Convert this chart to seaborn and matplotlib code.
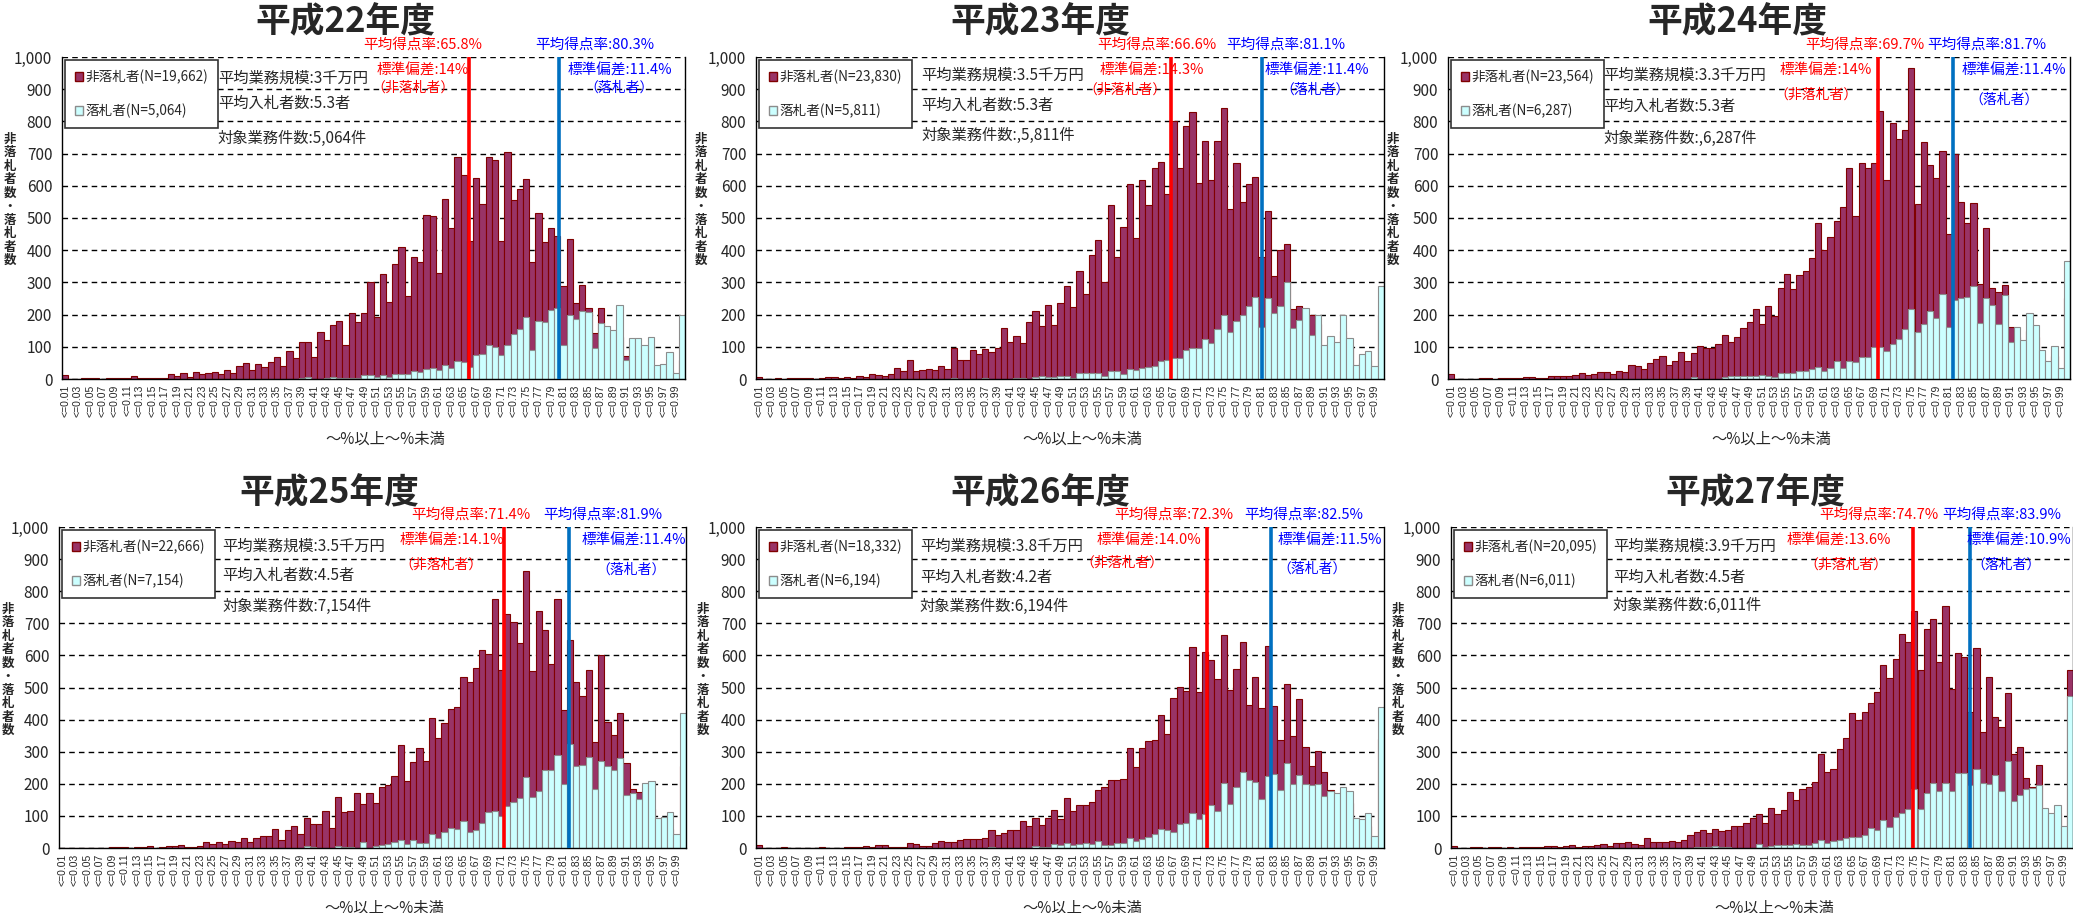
import matplotlib
matplotlib.use("Agg")
import matplotlib.pyplot as plt
from matplotlib.patches import Patch
import seaborn as sns

# --- Data ---
# 100 score-rate bins (0.00-0.01 ... 0.99-1.00); counts
bin_labels = [f"<={(i + 1) / 100:.2f}" for i in range(100)]

years = ["平成22年度", "平成23年度", "平成24年度", "平成25年度", "平成26年度", "平成27年度"]
n_nonwin = ["19,662", "23,830", "23,564", "22,666", "18,332", "20,095"]
n_win = ["5,064", "5,811", "6,287", "7,154", "6,194", "6,011"]
avg_scale = ["3", "3.5", "3.3", "3.5", "3.8", "3.9"]
avg_bidders = ["5.3", "5.3", "5.3", "4.5", "4.2", "4.5"]
job_count = ["5,064", ",5,811", ",6,287", "7,154", "6,194", "6,011"]
mean_nonwin = ["65.8", "66.6", "69.7", "71.4", "72.3", "74.7"]
sd_nonwin = ["14", "14.3", "14", "14.1", "14.0", "13.6"]
mean_win = ["80.3", "81.1", "81.7", "81.9", "82.5", "83.9"]
sd_win = ["11.4", "11.4", "11.4", "11.4", "11.5", "10.9"]

nonwin_h22 = [12, 0, 0, 3, 3, 3, 0, 2, 2, 2,
              3, 8, 3, 3, 3, 3, 3, 15, 8, 18,
              5, 22, 14, 18, 22, 14, 28, 18, 40, 50,
              28, 48, 36, 52, 68, 40, 88, 64, 115, 115,
              68, 147, 122, 168, 180, 105, 205, 178, 205, 302,
              192, 327, 240, 357, 410, 258, 380, 362, 510, 505,
              330, 560, 470, 690, 635, 430, 625, 545, 690, 680,
              430, 705, 557, 590, 622, 362, 515, 425, 470, 445,
              288, 435, 235, 292, 222, 143, 220, 120, 100, 130,
              70, 60, 50, 40, 40, 20, 20, 25, 10, 60]
win_h22 = [0, 0, 0, 0, 0, 0, 0, 0, 0, 0,
           0, 0, 0, 0, 0, 0, 0, 0, 0, 0,
           0, 0, 0, 0, 0, 0, 0, 0, 0, 0,
           0, 0, 0, 0, 0, 0, 0, 0, 2, 5,
           0, 0, 3, 5, 2, 3, 3, 3, 12, 12,
           5, 12, 5, 15, 15, 15, 25, 22, 30, 35,
           28, 42, 33, 55, 53, 38, 75, 77, 107, 100,
           75, 107, 140, 155, 192, 90, 180, 178, 215, 222,
           105, 200, 185, 210, 208, 95, 175, 165, 152, 230,
           60, 128, 127, 105, 130, 45, 48, 85, 20, 200]

nonwin_h23 = [5, 0, 0, 3, 0, 3, 3, 3, 3, 0,
              3, 5, 5, 3, 5, 3, 8, 5, 15, 12,
              10, 15, 33, 25, 58, 25, 28, 30, 28, 40,
              30, 95, 58, 58, 90, 78, 92, 85, 95, 157,
              115, 132, 113, 178, 210, 165, 230, 168, 235, 288,
              225, 335, 265, 385, 432, 300, 540, 380, 472, 605,
              437, 617, 540, 655, 675, 575, 800, 655, 785, 830,
              610, 738, 618, 738, 843, 528, 670, 550, 605, 628,
              380, 522, 320, 400, 420, 218, 226, 190, 200, 170,
              90, 110, 100, 150, 100, 30, 50, 60, 25, 200]
win_h23 = [0, 0, 0, 0, 0, 0, 0, 0, 0, 0,
           0, 0, 0, 0, 0, 0, 0, 0, 0, 0,
           0, 0, 0, 0, 0, 0, 0, 0, 0, 0,
           0, 2, 0, 0, 0, 0, 2, 0, 0, 0,
           0, 3, 3, 0, 5, 8, 5, 6, 8, 8,
           3, 18, 20, 20, 20, 8, 25, 25, 17, 32,
           27, 33, 38, 40, 57, 60, 65, 65, 90, 97,
           95, 123, 112, 155, 200, 145, 180, 198, 228, 255,
           163, 250, 205, 228, 300, 158, 183, 220, 138, 200,
           105, 135, 115, 198, 128, 45, 77, 88, 40, 290]

nonwin_h24 = [15, 0, 0, 0, 0, 2, 2, 0, 2, 2,
              3, 3, 5, 5, 3, 3, 10, 8, 8, 8,
              12, 18, 12, 15, 22, 22, 17, 25, 22, 45,
              40, 30, 50, 62, 70, 45, 55, 83, 55, 80,
              102, 95, 95, 108, 137, 115, 130, 158, 178, 218,
              170, 228, 195, 283, 325, 278, 323, 335, 375, 485,
              402, 440, 490, 535, 655, 505, 672, 655, 672, 832,
              617, 795, 745, 772, 965, 545, 735, 665, 625, 708,
              450, 700, 550, 485, 548, 295, 468, 283, 270, 293,
              160, 130, 100, 150, 130, 60, 40, 70, 25, 250]
win_h24 = [0, 0, 0, 0, 0, 0, 0, 0, 0, 0,
           0, 0, 0, 0, 0, 0, 0, 0, 0, 0,
           0, 0, 0, 0, 0, 0, 0, 0, 0, 0,
           0, 0, 0, 0, 0, 0, 0, 0, 0, 5,
           0, 0, 0, 0, 5, 8, 8, 8, 8, 10,
           12, 10, 5, 18, 20, 20, 25, 25, 30, 37,
           25, 35, 57, 35, 55, 52, 67, 68, 98, 100,
           88, 110, 125, 155, 218, 145, 170, 212, 190, 265,
           160, 245, 250, 255, 290, 175, 250, 230, 172, 260,
           115, 162, 122, 205, 168, 90, 55, 102, 35, 365]

nonwin_h25 = [0, 0, 0, 0, 0, 0, 0, 0, 3, 3,
              3, 0, 3, 3, 5, 0, 3, 5, 5, 10,
              3, 3, 5, 20, 12, 18, 12, 22, 18, 30,
              18, 30, 37, 37, 60, 25, 57, 70, 43, 95,
              75, 75, 115, 62, 160, 112, 115, 170, 138, 172,
              140, 190, 195, 225, 320, 210, 268, 312, 270, 405,
              343, 390, 432, 440, 533, 517, 562, 618, 603, 777,
              553, 730, 705, 640, 863, 552, 737, 678, 572, 777,
              430, 648, 517, 472, 553, 330, 600, 392, 352, 420,
              265, 185, 175, 150, 120, 60, 50, 60, 30, 255]
win_h25 = [0, 0, 0, 0, 0, 0, 0, 0, 0, 0,
           0, 0, 0, 0, 0, 0, 0, 0, 0, 0,
           0, 0, 0, 0, 0, 0, 0, 0, 0, 0,
           0, 0, 0, 0, 0, 0, 0, 0, 0, 5,
           3, 0, 0, 0, 5, 3, 3, 0, 20, 0,
           5, 8, 12, 18, 25, 12, 25, 15, 15, 45,
           30, 50, 62, 58, 83, 50, 55, 78, 112, 115,
           100, 132, 142, 155, 220, 160, 178, 243, 243, 290,
           200, 325, 255, 260, 285, 185, 272, 255, 243, 280,
           165, 170, 153, 203, 208, 95, 98, 113, 45, 420]

nonwin_h26 = [8, 0, 0, 0, 3, 0, 0, 0, 0, 0,
              3, 0, 0, 0, 3, 3, 3, 5, 3, 8,
              8, 3, 3, 3, 15, 12, 5, 5, 15, 22,
              18, 20, 25, 27, 27, 27, 32, 57, 42, 47,
              57, 55, 85, 70, 95, 72, 92, 117, 90, 157,
              115, 133, 133, 142, 180, 190, 213, 213, 215, 313,
              252, 310, 332, 335, 415, 355, 467, 502, 490, 627,
              487, 610, 585, 527, 663, 493, 557, 643, 447, 532,
              435, 628, 443, 338, 512, 348, 465, 315, 255, 303,
              238, 180, 150, 150, 140, 60, 60, 70, 30, 340]
win_h26 = [0, 0, 0, 0, 0, 0, 0, 0, 0, 0,
           0, 0, 0, 0, 0, 0, 0, 0, 0, 0,
           0, 0, 0, 0, 0, 0, 0, 0, 0, 0,
           0, 0, 0, 0, 0, 0, 0, 3, 0, 0,
           0, 0, 0, 0, 5, 3, 3, 12, 8, 15,
           10, 12, 15, 13, 22, 8, 8, 15, 15, 30,
           22, 27, 33, 43, 58, 55, 50, 75, 78, 108,
           90, 105, 133, 115, 203, 138, 190, 238, 212, 205,
           152, 225, 230, 180, 265, 198, 228, 200, 195, 200,
           162, 178, 170, 190, 178, 93, 90, 108, 38, 440]

nonwin_h27 = [5, 0, 0, 3, 3, 0, 3, 3, 0, 3,
              0, 3, 3, 3, 3, 5, 5, 3, 5, 10,
              3, 5, 5, 8, 12, 5, 15, 15, 18, 12,
              8, 30, 18, 18, 18, 22, 20, 25, 40, 50,
              55, 48, 60, 53, 57, 67, 67, 78, 92, 105,
              78, 125, 105, 117, 175, 150, 183, 190, 207, 292,
              238, 245, 308, 343, 420, 400, 425, 452, 487, 570,
              530, 590, 668, 642, 737, 555, 683, 712, 580, 753,
              495, 607, 595, 425, 622, 360, 533, 407, 378, 483,
              293, 315, 218, 190, 258, 100, 90, 110, 50, 555]
win_h27 = [0, 0, 0, 0, 0, 0, 0, 0, 0, 0,
           0, 0, 0, 0, 0, 0, 0, 0, 0, 0,
           0, 0, 0, 0, 0, 0, 0, 0, 0, 0,
           0, 0, 0, 0, 0, 0, 0, 0, 0, 3,
           3, 3, 5, 3, 3, 0, 0, 0, 0, 12,
           3, 5, 8, 10, 10, 12, 10, 10, 15, 25,
           15, 22, 25, 32, 35, 35, 42, 63, 55, 88,
           65, 98, 108, 123, 185, 122, 170, 203, 177, 203,
           177, 235, 235, 195, 245, 203, 198, 228, 178, 270,
           147, 165, 183, 188, 195, 125, 108, 135, 70, 475]

nonwin_all = [nonwin_h22, nonwin_h23, nonwin_h24, nonwin_h25, nonwin_h26, nonwin_h27]
win_all = [win_h22, win_h23, win_h24, win_h25, win_h26, win_h27]

# --- Layout (pixel boxes of each plot area, and label anchor points) ---
W, H = 2073, 913
axes_px = [(62, 57, 685, 379), (756, 57, 1384, 379), (1448, 57, 2070, 379),
           (59, 527, 686, 848), (756, 527, 1384, 848), (1451, 527, 2073, 848)]
title_x = [345, 1040, 1737, 329, 1040, 1755]
ylab_x = [10, 701, 1393, 8, 703, 1398]
# x positions (bar index) of the red / blue captions
red_cap = [(57.4, 57.4, 55.9, 905), (63.4, 62.6, 58.3, 897), (66.5, 60.2, 58.6, 883),
           (65.2, 62.2, 60.5, 883), (66.0, 62.0, 57.8, 889), (68.3, 61.9, 63.0, 884)]
blue_cap = [(85.0, 89.1, 88.9, 905), (83.8, 88.8, 88.6, 897), (86.2, 90.5, 88.9, 866),
            (86.3, 91.2, 90.8, 868), (86.7, 90.8, 88.1, 871), (88.1, 90.8, 88.8, 884)]
info_pos = [(0.25, 933, 855, 747), (0.263, 943, 850, 755), (0.25, 943, 847, 747),
            (0.261, 940, 850, 753), (0.261, 941, 843, 753), (0.26, 941, 842, 754)]

MAROON, MAROON_EDGE = "#993366", "#800000"
CYAN, CYAN_EDGE = "#CCFFFF", "#8C8C8C"
RED, BLUE_LINE, BLUE_TXT = "#FF0000", "#0070C0", "#0000FF"

sns.set_style("white")
plt.rcParams["font.family"] = ["Noto Sans CJK JP", "DejaVu Sans"]

fig = plt.figure(figsize=(W / 100, H / 100), dpi=100)

for k in range(6):
    x0, y0, x1, y1 = axes_px[k]
    ax = fig.add_axes([x0 / W, 1 - y1 / H, (x1 - x0) / W, (y1 - y0) / H])

    # non-winners behind, winners in front
    sns.barplot(x=bin_labels, y=nonwin_all[k], order=bin_labels, color=MAROON,
                saturation=1, width=1.0, edgecolor=MAROON_EDGE, linewidth=0.8,
                errorbar=None, ax=ax)
    sns.barplot(x=bin_labels, y=win_all[k], order=bin_labels, color=CYAN,
                saturation=1, width=1.0, edgecolor=CYAN_EDGE, linewidth=0.8,
                errorbar=None, ax=ax)

    ax.set_xlim(-0.5, 99.5)
    ax.set_ylim(0, 1000)
    ax.set_yticks(range(0, 1001, 100))
    ax.set_yticklabels([f"{v:,}" for v in range(0, 1001, 100)], fontsize=11)
    ax.set_xticks(range(0, 100, 2))
    ax.set_xticklabels(bin_labels[::2], rotation=90, fontsize=7.5,
                       fontfamily="Liberation Sans")
    ax.tick_params(axis="x", length=2, pad=2)
    ax.tick_params(axis="y", length=3, pad=4)
    ax.set_xlabel("")
    ax.set_ylabel("")

    ax.set_axisbelow(True)
    ax.yaxis.grid(True, color="black", linestyle=(0, (4, 3)), linewidth=1)
    ax.spines["top"].set_visible(False)
    for side in ["left", "bottom", "right"]:
        ax.spines[side].set_color("black")
        ax.spines[side].set_linewidth(1.0)

    # average score lines
    m_red = float(mean_nonwin[k]) - 1
    m_blue = float(mean_win[k]) - 1
    ax.axvline(m_red, color=RED, linewidth=2.6, zorder=5)
    ax.axvline(m_blue, color=BLUE_LINE, linewidth=2.6, zorder=5)

    rc, bc = red_cap[k], blue_cap[k]
    trans = ax.get_xaxis_transform()
    ax.text(rc[0], 1.037, f"平均得点率:{mean_nonwin[k]}%", transform=trans,
            ha="center", va="center", color=RED, fontsize=10.5)
    ax.text(bc[0], 1.037, f"平均得点率:{mean_win[k]}%", transform=trans,
            ha="center", va="center", color=BLUE_TXT, fontsize=10.5)
    ax.text(rc[1], 958, f"標準偏差:{sd_nonwin[k]}%", ha="center", va="center",
            color=RED, fontsize=10.5, zorder=6)
    ax.text(rc[2], rc[3], "（非落札者）", ha="center", va="center",
            color=RED, fontsize=10, zorder=6)
    ax.text(bc[1], 958, f"標準偏差:{sd_win[k]}%", ha="center", va="center",
            color=BLUE_TXT, fontsize=10.5, zorder=6)
    ax.text(bc[2], bc[3], "（落札者）", ha="center", va="center",
            color=BLUE_TXT, fontsize=10, zorder=6)

    # summary notes
    ip = info_pos[k]
    note_trans = ax.get_yaxis_transform()
    ax.text(ip[0], ip[1], f"平均業務規模:{avg_scale[k]}千万円", transform=note_trans,
            ha="left", va="center", fontsize=11)
    ax.text(ip[0], ip[2], f"平均入札者数:{avg_bidders[k]}者", transform=note_trans,
            ha="left", va="center", fontsize=11)
    ax.text(ip[0], ip[3], f"対象業務件数:{job_count[k]}件", transform=note_trans,
            ha="left", va="center", fontsize=11)

    handles = [Patch(facecolor=MAROON, edgecolor=MAROON_EDGE),
               Patch(facecolor=CYAN, edgecolor=CYAN_EDGE)]
    leg = ax.legend(handles, [f"非落札者(N={n_nonwin[k]})", f"落札者(N={n_win[k]})"],
                    loc="upper left", bbox_to_anchor=(0.005, 0.99), borderaxespad=0,
                    fontsize=9.8, handlelength=0.6, handleheight=0.6,
                    handletextpad=0.2, labelspacing=1.45, borderpad=0.7,
                    fancybox=False, framealpha=1)
    leg.get_frame().set_edgecolor("#333333")
    leg.get_frame().set_linewidth(1.2)
    leg.set_zorder(7)

    # titles and axis captions
    title_y = 1 - (22 if k < 3 else 493) / H
    fig.text(title_x[k] / W, title_y, years[k], ha="center", va="center",
             fontsize=25, fontweight="bold")
    fig.text((x0 + x1) / 2 / W + 12 / W, 1 - (y1 + 60) / H, "～%以上～%未満",
             ha="center", va="center", fontsize=11)
    fig.text(ylab_x[k] / W, 1 - (y0 + 143) / H, "\n".join("非落札者数・落札者数"),
             ha="center", va="center", fontsize=9, linespacing=1.05,
             fontweight="bold")

fig.savefig("out.png", dpi=100)
